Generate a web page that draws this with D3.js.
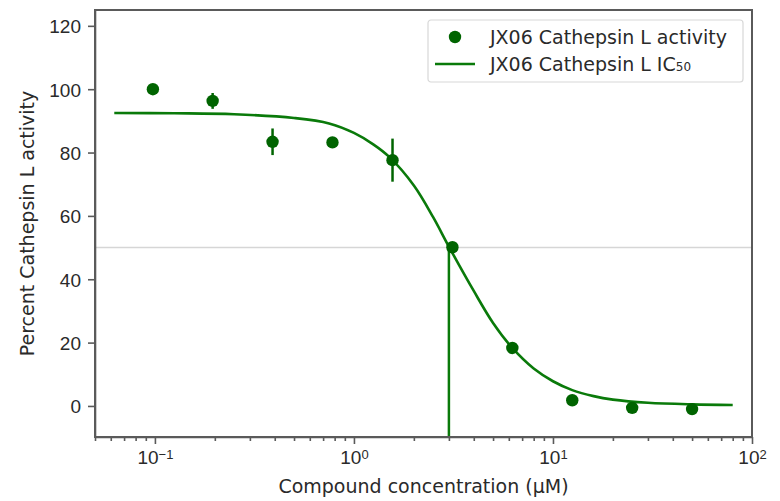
<!DOCTYPE html>
<html>
<head>
<meta charset="utf-8">
<script src="https://cdn.jsdelivr.net/npm/d3@7"></script>
<style>
  body { margin: 0; background: #fff; }
  svg { display: block; font-family: 'DejaVu Sans', sans-serif; }
  .tick text { font-size: 19px; fill: #2a2a2a; }
</style>
</head>
<body>
<svg width="780" height="501"></svg>
<script>
// measured points (concentration in uM, % activity, error)
const conc     = [0.0977, 0.195, 0.39, 0.78, 1.5625, 3.125, 6.25, 12.5, 25, 50];
const activity = [100, 96.3, 83.4, 83.2, 77.6, 50.1, 18.3, 1.8, -0.6, -1.0];
const errors   = [0.8, 2.5, 4.2, 0.5, 6.8, 0.5, 0.5, 0.5, 0.5, 0.5];

// IC50 fit curve
const curveConc = [0.0625, 0.125, 0.25, 0.5, 0.75, 1, 1.25, 1.5, 2, 2.5, 3, 4, 5, 6.25, 8, 10, 12.5, 16, 20, 30, 50, 80];
const curveAct  = [92.5, 92.4, 92.1, 90.9, 89.2, 86.2, 82.6, 78.7, 69.6, 59.6, 50.3, 36.3, 26.2, 18.3, 11.8, 7.8, 5.0, 3.1, 2.0, 1.0, 0.5, 0.3];
const ic50 = 3.0;

const xMajor = [0.1, 1, 10, 100];
const xExp   = ['\u22121', '0', '1', '2'];
const xMinor = [0.05, 0.06, 0.07, 0.08, 0.09, 0.2, 0.3, 0.4, 0.5, 0.6, 0.7, 0.8, 0.9,
                2, 3, 4, 5, 6, 7, 8, 9, 20, 30, 40, 50, 60, 70, 80, 90];
const yTicks = [0, 20, 40, 60, 80, 100, 120];

const svg = d3.select('svg');
const margin = { top: 10, left: 95, right: 28, bottom: 64 };
const width = +svg.attr('width'), height = +svg.attr('height');
const x0 = margin.left, x1 = width - margin.right;
const y0 = height - margin.bottom, y1 = margin.top;

const xScale = d3.scaleLog().domain([0.05, 100]).range([x0, x1]);
const yScale = d3.scaleLinear().domain([-9.8, 125]).range([y0, y1]);

const green = '#0a7a0a';
const dark = '#006400';
const axisColor = '#5a5a5a';

// 50% reference line
svg.append('line')
  .attr('x1', x0).attr('x2', x1)
  .attr('y1', yScale(50)).attr('y2', yScale(50))
  .attr('stroke', '#d6d6d6').attr('stroke-width', 1.6);

// vertical IC50 line
svg.append('line')
  .attr('x1', xScale(ic50)).attr('x2', xScale(ic50))
  .attr('y1', yScale(50)).attr('y2', y0)
  .attr('stroke', green).attr('stroke-width', 2.5);

// fitted curve
const line = d3.line()
  .x(d => xScale(d[0]))
  .y(d => yScale(d[1]))
  .curve(d3.curveCatmullRom.alpha(0.5));
svg.append('path')
  .attr('d', line(d3.zip(curveConc, curveAct)))
  .attr('fill', 'none')
  .attr('stroke', green)
  .attr('stroke-width', 2.6);

// error bars + points
const pts = conc.map((c, i) => ({ c, v: activity[i], e: errors[i] }));
svg.append('g').selectAll('line').data(pts).join('line')
  .attr('x1', d => xScale(d.c)).attr('x2', d => xScale(d.c))
  .attr('y1', d => yScale(d.v - d.e)).attr('y2', d => yScale(d.v + d.e))
  .attr('stroke', dark).attr('stroke-width', 2.5);
svg.append('g').selectAll('circle').data(pts).join('circle')
  .attr('cx', d => xScale(d.c)).attr('cy', d => yScale(d.v))
  .attr('r', 6.2).attr('fill', dark);

// axes
const xAxis = svg.append('g')
  .attr('transform', `translate(0,${y0})`)
  .call(d3.axisBottom(xScale).tickValues(xMajor).tickFormat('').tickSize(7).tickSizeOuter(0));
xAxis.selectAll('.tick text')
  .data(xExp)
  .attr('y', 14).attr('dy', '0.71em')
  .each(function (e) {
    const t = d3.select(this);
    t.append('tspan').text('10');
    t.append('tspan').attr('dy', '-0.45em').attr('font-size', '13px').text(e);
  });
svg.append('g')
  .attr('transform', `translate(0,${y0})`)
  .call(d3.axisBottom(xScale).tickValues(xMinor).tickFormat('').tickSize(4).tickSizeOuter(0))
  .call(g => g.select('.domain').remove());

const yAxis = svg.append('g')
  .attr('transform', `translate(${x0},0)`)
  .call(d3.axisLeft(yScale).tickValues(yTicks).tickSize(7).tickPadding(7).tickSizeOuter(0));
yAxis.selectAll('.tick text').attr('dy', '0.36em');

svg.selectAll('.tick line, .domain').attr('stroke', axisColor).attr('stroke-width', 1.6);

// frame
svg.append('rect')
  .attr('x', x0).attr('y', y1)
  .attr('width', x1 - x0).attr('height', y0 - y1)
  .attr('fill', 'none').attr('stroke', axisColor).attr('stroke-width', 2);

// axis labels
svg.append('text')
  .attr('x', (x0 + x1) / 2).attr('y', 493)
  .attr('text-anchor', 'middle')
  .attr('font-size', 19).attr('fill', '#2a2a2a')
  .text('Compound concentration (\u00b5M)');
svg.append('text')
  .attr('transform', `translate(27,${(y0 + y1) / 2}) rotate(-90)`)
  .attr('text-anchor', 'middle').attr('dy', '0.35em')
  .attr('font-size', 19).attr('fill', '#2a2a2a')
  .text('Percent Cathepsin L activity');

// legend
const legend = svg.append('g').attr('transform', 'translate(428,20)');
legend.append('rect')
  .attr('width', 315).attr('height', 62).attr('rx', 3)
  .attr('fill', '#fff').attr('stroke', '#d8d8d8').attr('stroke-width', 1.2);
legend.append('circle').attr('cx', 27).attr('cy', 17).attr('r', 6.2).attr('fill', dark);
legend.append('line').attr('x1', 7).attr('x2', 47).attr('y1', 44).attr('y2', 44)
  .attr('stroke', green).attr('stroke-width', 2.6);
legend.append('text').attr('x', 62).attr('y', 17).attr('dy', '0.35em')
  .attr('font-size', 19).attr('fill', '#2a2a2a')
  .text('JX06 Cathepsin L activity');
const t2 = legend.append('text').attr('x', 62).attr('y', 44).attr('dy', '0.35em')
  .attr('font-size', 19).attr('fill', '#2a2a2a');
t2.append('tspan').text('JX06 Cathepsin L IC');
t2.append('tspan').attr('font-size', 12).text('50');
</script>
</body>
</html>
